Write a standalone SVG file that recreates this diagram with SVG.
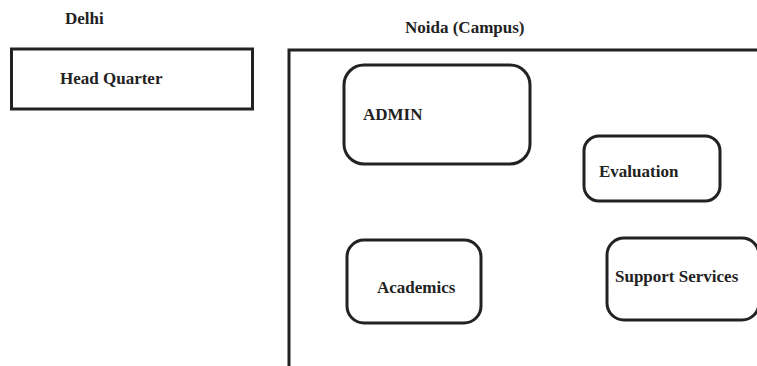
<svg xmlns="http://www.w3.org/2000/svg" width="757" height="366" viewBox="0 0 757 366">
<style>
text{font-family:"Liberation Serif","Times New Roman",serif;font-weight:bold;font-size:17px;fill:#222}
.box{fill:none;stroke:#222;stroke-width:3}
.rbox{fill:#fff;stroke:#222;stroke-width:3}
</style>
<rect width="757" height="366" fill="#fff"/>
<g id="delhi-label"><text x="65" y="24">Delhi</text></g>
<g id="head-quarter"><rect class="box" x="11.5" y="49" width="241" height="60"/><text x="60" y="84">Head Quarter</text></g>
<g id="noida-campus"><text x="405" y="33">Noida (Campus)</text><rect class="box" x="289" y="50" width="480" height="330"/></g>
<g id="admin"><rect class="rbox" x="344" y="65" width="186" height="99" rx="20"/><text x="363" y="120">ADMIN</text></g>
<g id="evaluation"><rect class="rbox" x="584" y="136" width="136" height="65" rx="15"/><text x="599" y="177">Evaluation</text></g>
<g id="academics"><rect class="rbox" x="347" y="240" width="134" height="83" rx="17"/><text x="377" y="293">Academics</text></g>
<g id="support-services"><rect class="rbox" x="607" y="238" width="152" height="82" rx="17"/><text x="615" y="282">Support Services</text></g>
<g id="connectors"></g>
</svg>
